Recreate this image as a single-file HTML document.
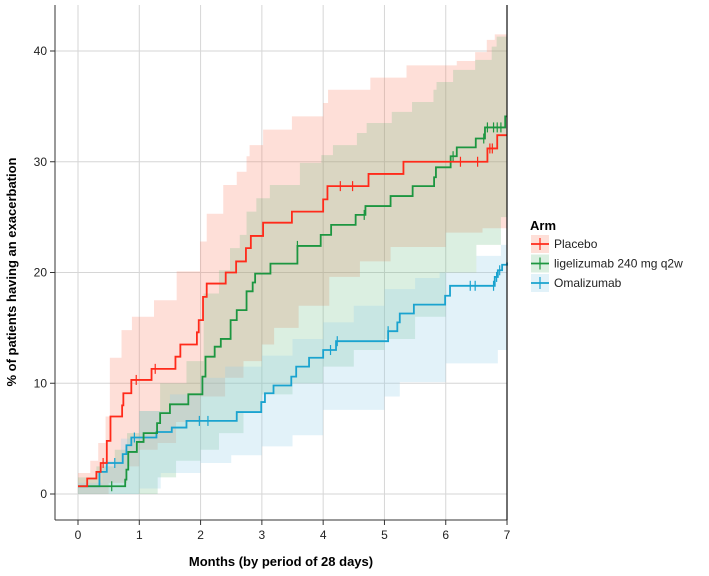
<!DOCTYPE html>
<html><head><meta charset="utf-8"><style>
body{margin:0;background:#fff;font-family:"Liberation Sans",Arial,sans-serif}
svg text{font-family:"Liberation Sans",Arial,sans-serif}
</style></head><body>
<svg id="chart" width="709" height="571" viewBox="0 0 709 571">
<g id="grid"></g>
<g id="bands"></g>
<g id="lines"></g>
<g id="axes"></g>
<text x="16" y="272" transform="rotate(-90 16 272)" text-anchor="middle" font-size="13" font-weight="bold">% of patients having an exacerbation</text>
<text x="281" y="566" text-anchor="middle" font-size="13" font-weight="bold">Months (by period of 28 days)</text>
<g>
<text x="530" y="230" font-size="13" font-weight="bold">Arm</text>
<g id="legend"></g>
</g>
</svg>
<script>
const xTicks=[0,1,2,3,4,5,6,7];
const yTicks=[0,10,20,30,40];
const armNames=["Placebo","ligelizumab 240 mg q2w","Omalizumab"];
const placeboT=[0,0.15,0.30,0.37,0.47,0.53,0.72,0.74,0.87,1.2,1.59,1.67,1.94,1.97,2.04,2.10,2.41,2.58,2.74,2.82,3.02,3.49,4.0,4.07,4.74,5.31,6.68,6.84,7.0];
const placeboV=[0.7,1.4,2.0,2.8,4.8,7.0,8.0,9.1,10.3,11.3,12.4,13.5,14.6,15.7,17.8,19.0,20.0,21.0,22.2,23.3,24.5,25.5,26.6,27.8,28.9,30.0,31.2,32.4,32.4];
const placeboCens=[0.41,0.95,1.26,4.28,4.48,6.24,6.52,6.72,6.76];
const ligT=[0,0.77,0.79,0.82,0.96,1.07,1.29,1.34,1.50,1.80,2.03,2.08,2.23,2.33,2.49,2.59,2.75,2.85,2.89,3.14,3.58,3.96,4.13,4.53,4.69,5.10,5.46,5.81,5.84,6.08,6.18,6.49,6.64,6.97,7.0];
const ligV=[0.7,1.3,2.2,3.8,4.7,5.5,6.4,7.3,8.1,9.0,10.6,12.4,13.3,14.0,15.7,16.6,18.3,19.1,19.9,20.8,22.4,23.4,24.3,25.2,26.0,26.9,27.8,28.6,29.5,30.5,31.3,32.1,33.1,34.1,34.1];
const ligCens=[0.55,3.58,4.67,6.12,6.62,6.68,6.78,6.84,6.9];
const omaT=[0,0.35,0.47,0.73,0.79,0.87,1.28,1.53,1.77,2.59,2.99,3.05,3.19,3.48,3.56,3.77,4.0,4.21,5.06,5.21,5.25,5.48,5.99,6.07,6.80,6.85,6.92,7.0];
const omaV=[0.7,2.0,2.8,3.6,4.4,5.1,5.6,6.0,6.6,7.4,8.3,9.1,9.8,10.6,11.5,12.3,13.0,13.8,14.7,15.5,16.3,17.1,17.9,18.8,19.6,20.2,20.7,20.9];
const omaCens=[0.6,0.92,1.98,2.12,4.12,4.23,5.06,6.4,6.48,6.78,6.83,6.88];
const placeboBandT=[0,0.2,0.33,0.45,0.52,0.71,0.88,1.24,1.61,1.99,2.1,2.37,2.59,2.75,2.8,3.02,3.49,4.0,4.08,4.77,5.36,6.18,6.48,6.67,6.8,7];
const placeboUp=[1.9,3,4.6,7,12.3,14.8,16,17.5,20.1,22.8,25.3,27.9,29.1,30.5,31.5,32.9,34.1,35.3,36.5,37.6,38.7,39.1,39.9,41,41.5,41.5];
const placeboLoT=[0,0.5,0.8,1.0,1.3,1.6,2.0,2.4,2.7,3.0,3.2,3.6,4.1,4.6,5.1,6.0,6.6,7.0];
const placeboLo=[0,1,2.5,4,4.6,6.5,8.8,10.5,12,13.5,15,17,19.6,21,22.3,23.6,24,24];
const ligBandT=[0,0.3,0.6,0.8,1.0,1.34,1.77,2.05,2.3,2.48,2.64,2.75,2.91,3.13,3.62,3.97,4.16,4.55,4.71,5.12,5.45,5.8,5.85,6.12,6.48,6.75,6.83,7];
const ligUp=[1.5,2.5,4,5.5,7.5,10,12,18.1,20.2,22.2,23.4,25.5,26.7,27.9,29.9,30.6,31.5,32.6,33.5,34.5,35.4,36.5,37.2,38.3,39.2,40.4,41.3,41.3];
const ligLoT=[0,1.0,1.3,1.6,2.0,2.3,2.7,3.0,3.5,4.0,4.5,5.0,5.5,6.0,6.5,6.9,7.0];
const ligLo=[0,0,1.5,3,4,5.5,7.5,9,10,11.5,13,14,16,20,22.5,25,25];
const omaBandT=[0,0.4,0.7,1.0,1.5,2.0,2.4,3.0,3.5,4.0,4.5,5.0,5.5,5.9,6.5,6.9,7.0];
const omaUp=[1,3,5,7.5,9,10.5,11.5,12.5,14,15.5,17,18.5,19.5,20,21.5,22.5,22.5];
const omaLoT=[0,1.0,1.35,2.0,2.5,3.0,3.5,4.0,5.0,5.25,6.0,6.85,7.0];
const omaLo=[0,0.5,1.9,2.8,3.5,4.3,5.3,7.6,8.8,10.1,11.8,13,13];

const X=m=>78+m*61.29, Y=v=>494-v*11.075;
const NS="http://www.w3.org/2000/svg";
function mk(p,tag,a){const e=document.createElementNS(NS,tag);for(const k in a)e.setAttribute(k,a[k]);p.appendChild(e);return e;}
function stepPts(t,v){let s=`${X(t[0])},${Y(v[0])}`;for(let i=1;i<t.length;i++){s+=` ${X(t[i])},${Y(v[i-1])} ${X(t[i])},${Y(v[i])}`;}return s;}
const grid=document.getElementById('grid');
xTicks.forEach(t=>{const l=mk(grid,'line',{x1:X(t),x2:X(t),y1:5,y2:520,stroke:'#d6d6d6','stroke-width':1});

});
yTicks.forEach(t=>{const l=mk(grid,'line',{x1:55,x2:507,y1:Y(t),y2:Y(t),stroke:'#d6d6d6','stroke-width':1});

});
const bands=document.getElementById('bands');
function band(tu,up,tl,lo,col,name){
  const top=stepPts(tu,up), bot=stepPts(tl,lo).split(' ').reverse().join(' ');
  const p=mk(bands,'polygon',{points:top+' '+bot,fill:col});
  
  
}
band(placeboBandT,placeboUp,placeboLoT,placeboLo,'rgba(250,120,90,0.24)','placebo-ci-band');
band(ligBandT,ligUp,ligLoT,ligLo,'rgba(90,180,120,0.22)','ligelizumab-ci-band');
band(omaBandT,omaUp,omaLoT,omaLo,'rgba(150,210,235,0.28)','omalizumab-ci-band');
const lines=document.getElementById('lines');
function curve(t,v,c,col,name){
  const p=mk(lines,'polyline',{points:stepPts(t,v),fill:'none',stroke:col,'stroke-width':1.8});
  
  
  c.forEach(m=>{let val=v[0];for(let i=0;i<t.length;i++)if(t[i]<=m)val=v[i];
    const l=mk(lines,'line',{x1:X(m),x2:X(m),y1:Y(val)-5,y2:Y(val)+5,stroke:col,'stroke-width':1.2});
    
    });
}
curve(omaT,omaV,omaCens,'#1aa3cf','omalizumab');
curve(ligT,ligV,ligCens,'#1c9640','ligelizumab');
curve(placeboT,placeboV,placeboCens,'#ff2a1a','placebo');
const axes=document.getElementById('axes');
mk(axes,'line',{x1:55,x2:55,y1:5,y2:520,stroke:'#333','stroke-width':1});
mk(axes,'line',{x1:55,x2:507,y1:520,y2:520,stroke:'#333','stroke-width':1});
mk(axes,'line',{x1:507,x2:507,y1:5,y2:520,stroke:'#111','stroke-width':1.2});
xTicks.forEach(t=>{mk(axes,'line',{x1:X(t),x2:X(t),y1:520,y2:525,stroke:'#333'});
const tx=mk(axes,'text',{x:X(t),y:539,'text-anchor':'middle','font-size':12,fill:'#222'});tx.textContent=t;

});
yTicks.forEach(t=>{mk(axes,'line',{x1:50,x2:55,y1:Y(t),y2:Y(t),stroke:'#333'});
const tx=mk(axes,'text',{x:47,y:Y(t)+4,'text-anchor':'end','font-size':12,fill:'#222'});tx.textContent=t;

});
const leg=document.getElementById('legend');
const legCols=['#ff2a1a','#1c9640','#1aa3cf'],legFill=['rgba(250,120,90,0.24)','rgba(90,180,120,0.22)','rgba(150,210,235,0.28)'];
armNames.forEach((n,i)=>{const y=244+i*19.5;
const g=mk(leg,'g',{});


mk(g,'rect',{x:531,y:y-9,width:18,height:18,fill:legFill[i]});
mk(g,'line',{x1:531,x2:549,y1:y,y2:y,stroke:legCols[i],'stroke-width':1.8});
mk(g,'line',{x1:540,x2:540,y1:y-6,y2:y+6,stroke:legCols[i],'stroke-width':1.2});
const t=mk(g,'text',{x:554,y:y+4,'font-size':12,fill:'#222'});t.textContent=n;});
</script>
</body></html>
